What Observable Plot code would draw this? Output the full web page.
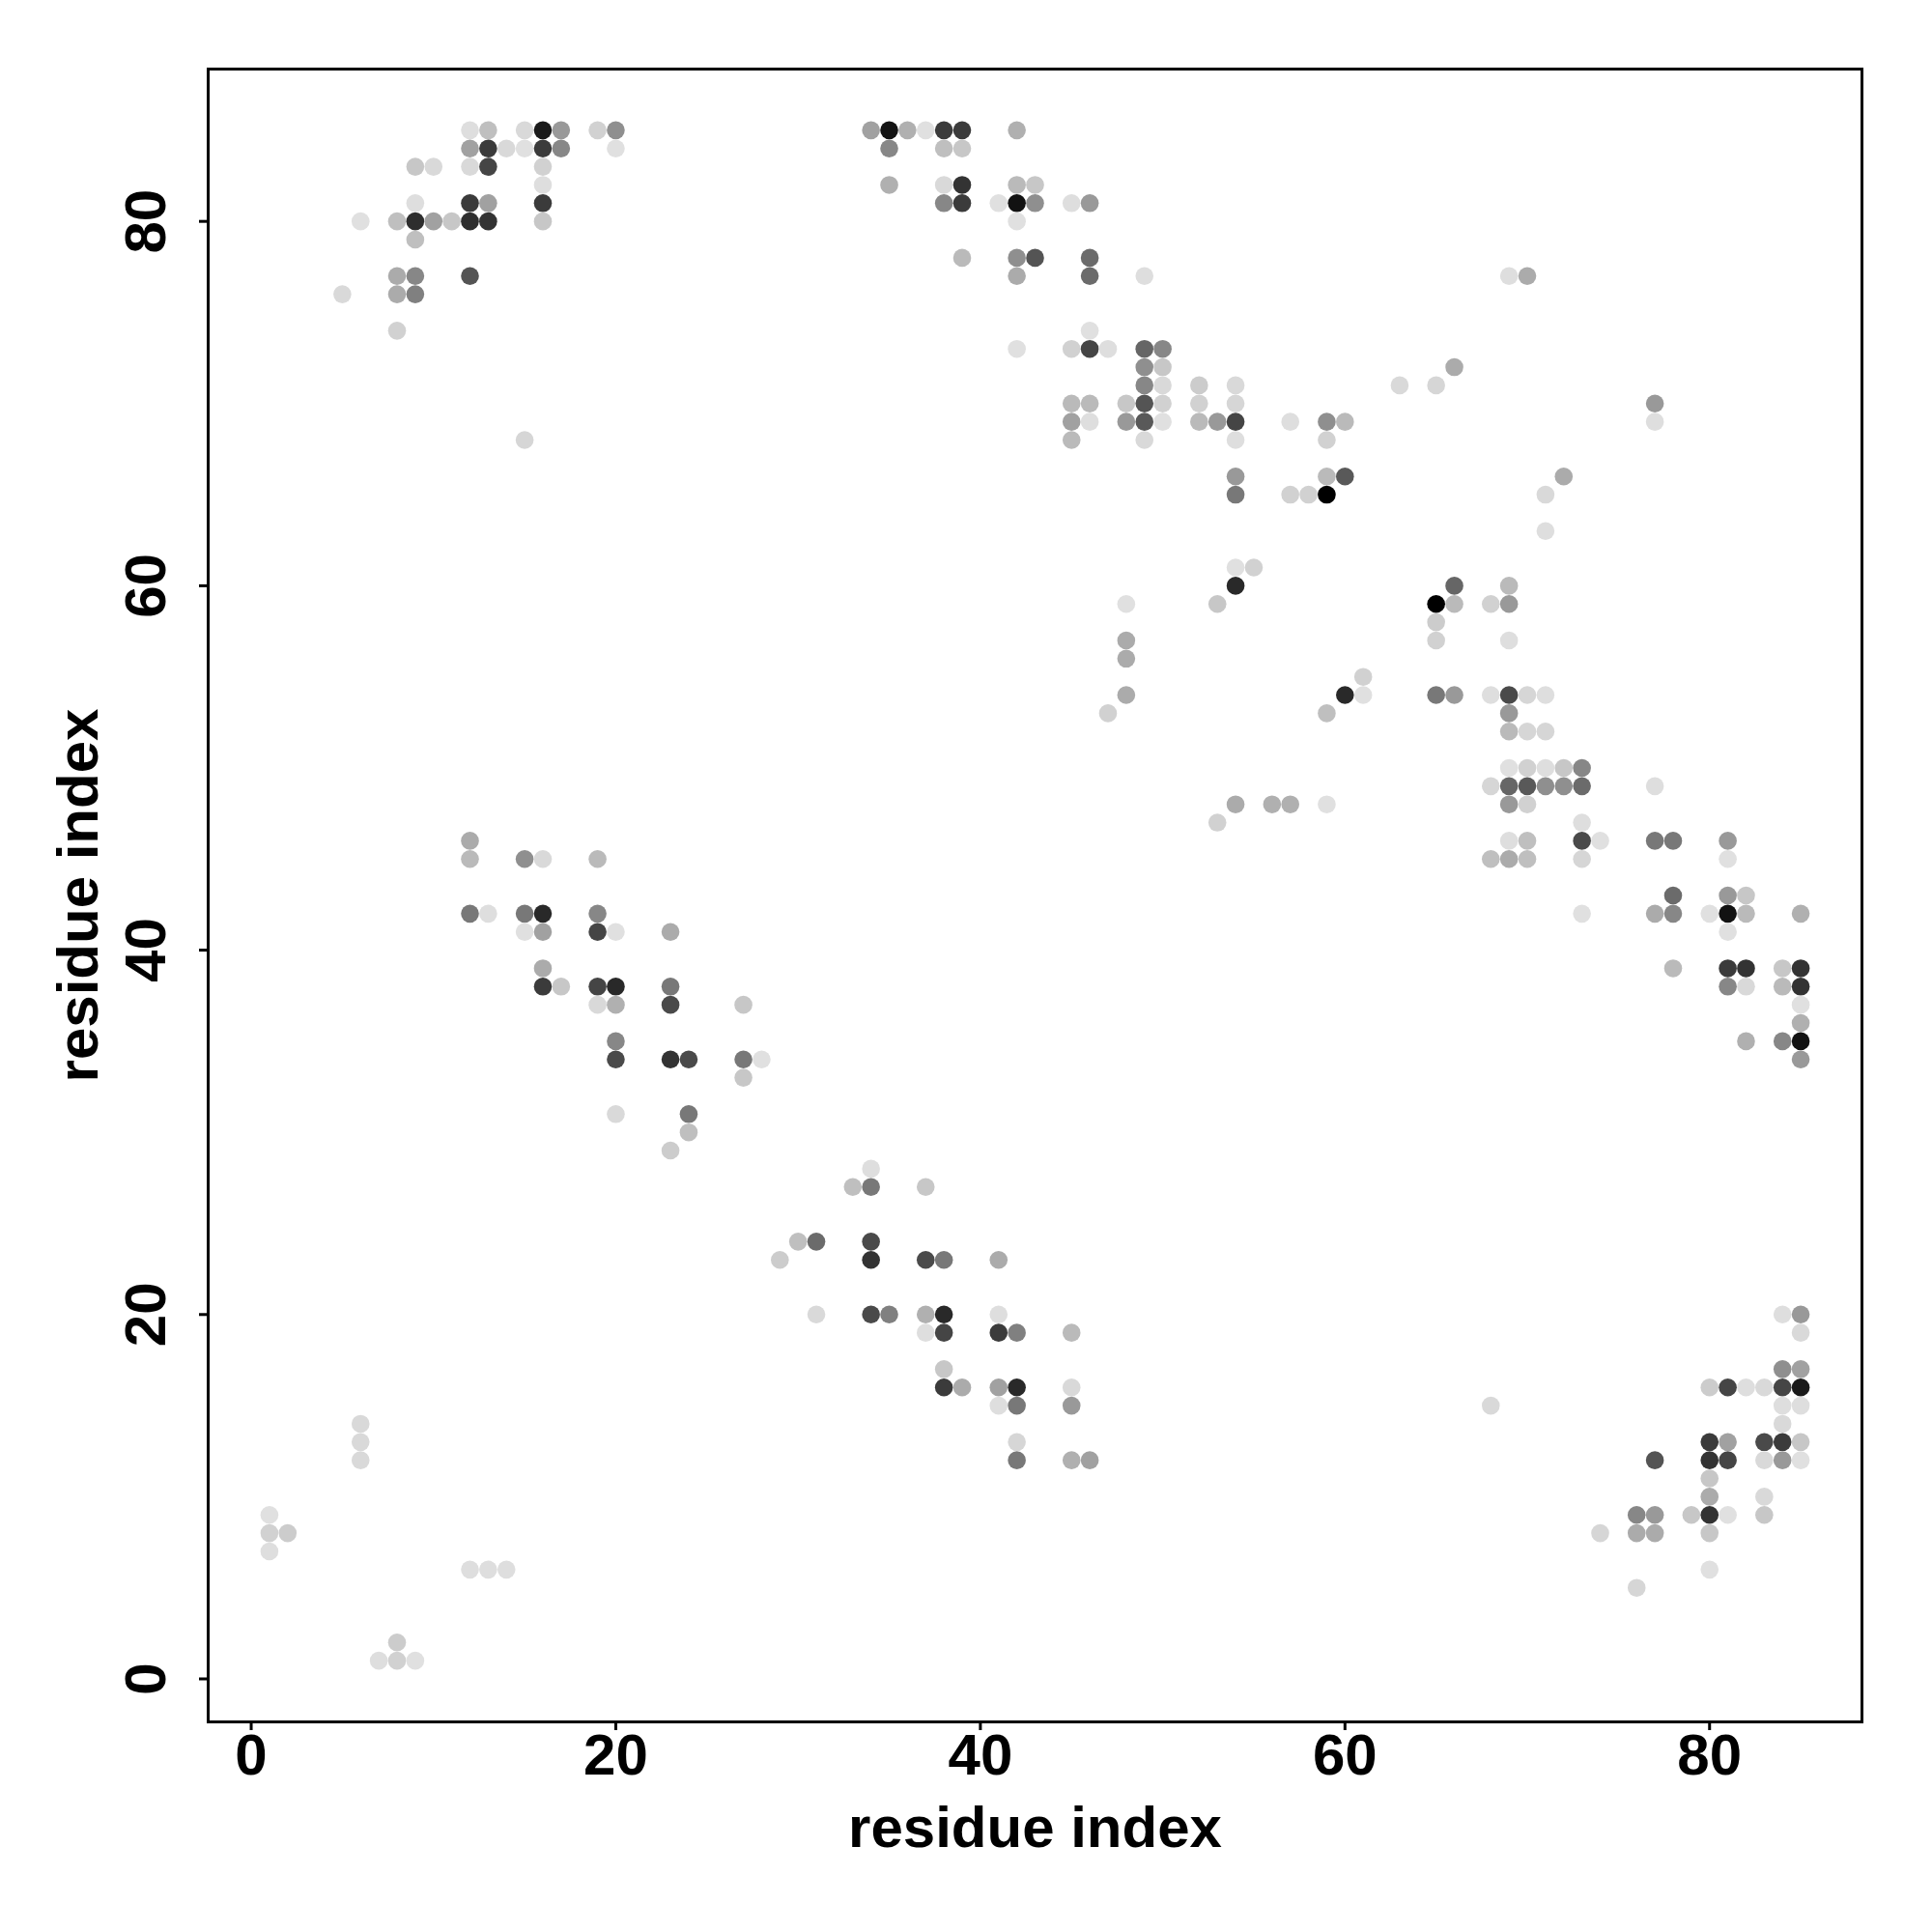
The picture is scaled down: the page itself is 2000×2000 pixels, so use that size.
<!DOCTYPE html>
<html>
<head>
<meta charset="utf-8">
<script src="https://cdn.jsdelivr.net/npm/d3@7"></script>
<script src="https://cdn.jsdelivr.net/npm/@observablehq/plot@0.6"></script>
<style>
  html, body { margin: 0; padding: 0; background: #ffffff; }
</style>
</head>
<body>
<div id="chart"></div>
<script>
// Contact map: for each residue index j (row), the partner residues i and contact strength p
const rowJ = [85, 84, 83, 82, 81, 80, 79, 78, 77, 76, 74, 73, 72, 71, 70, 69, 68, 66, 65, 63, 61, 60, 59, 58, 57, 56, 55, 54, 53, 52, 50, 49, 48, 47, 46, 45, 43, 42, 41, 39, 38, 37, 36, 35, 34, 33, 31, 30, 29, 28, 27, 24, 23, 20, 19, 17, 16, 15, 14, 13, 12, 11, 10, 9, 8, 7, 6, 5, 2, 1];
const rowI = [
  [12,13,15,16,17,19,20,34,35,36,37,38,39,42],
  [12,13,14,15,16,17,20,35,38,39],
  [9,10,12,13,16],
  [16,35,38,39,42,43],
  [9,12,13,16,38,39,41,42,43,45,46],
  [6,8,9,10,11,12,13,16,42],
  [9],
  [39,42,43,46],
  [8,9,12,42,46,49,69,70],
  [5,8,9],
  [8,46],
  [42,45,46,47,49,50],
  [49,50,66],
  [49,50,52,54,63,65],
  [45,46,48,49,50,52,54,77],
  [45,46,48,49,50,52,53,54,57,59,60,77],
  [15,45,49,54,59],
  [54,59,60,72],
  [54,57,58,59,71],
  [71],
  [54,55],
  [54,66,69],
  [48,53,65,66,68,69],
  [65],
  [48,65,69],
  [48],
  [61],
  [48,60,61,65,66,68,69,70,71],
  [47,59,69],
  [69,70,71],
  [69,70,71,72,73],
  [68,69,70,71,72,73,77],
  [54,56,57,59,69,70],
  [53,73],
  [12,69,70,73,74,77,78,81],
  [12,15,16,19,68,69,70,73,81],
  [78,81,82],
  [12,13,15,16,19,73,77,78,80,81,82,85],
  [15,16,19,20,23,81],
  [16,78,81,82,84,85],
  [16,17,19,20,23,81,82,84,85],
  [19,20,23,27,85],
  [85],
  [20,82,84,85],
  [20,23,24,27,28,85],
  [27],
  [20,24],
  [24],
  [23],
  [34],
  [33,34,37],
  [30,31,34],
  [29,34,37,38,41],
  [31,34,35,37,38,41,84,85],
  [37,38,41,42,45,85],
  [38,84,85],
  [38,39,41,42,45,80,81,82,83,84,85],
  [41,42,45,68,84,85],
  [6,84],
  [6,42,80,81,83,84,85],
  [6,42,45,46,77,80,81,83,84,85],
  [80],
  [80,83],
  [1,76,77,79,80,81,83],
  [1,2,74,76,77,80],
  [1],
  [12,13,14,80],
  [76],
  [8],
  [7,8,9]
];
const rowP = [
  [.13,.25,.15,.9,.4,.18,.44,.37,.92,.31,.12,.77,.77,.31],
  [.37,.77,.15,.12,.77,.47,.12,.47,.25,.22],
  [.22,.15,.15,.73,.18],
  [.13,.31,.15,.8,.27,.22],
  [.13,.77,.37,.77,.47,.77,.12,.93,.44,.13,.4],
  [.12,.25,.82,.37,.22,.82,.8,.22,.12],
  [.25],
  [.27,.44,.67,.58],
  [.33,.47,.67,.33,.58,.13,.13,.33],
  [.15,.33,.5],
  [.18,.12],
  [.12,.18,.73,.13,.6,.47],
  [.44,.22,.33],
  [.47,.15,.2,.15,.15,.16],
  [.27,.27,.22,.67,.18,.18,.16,.4],
  [.37,.13,.4,.65,.12,.27,.4,.73,.13,.44,.27,.13],
  [.16,.27,.15,.13,.18],
  [.4,.27,.65,.33],
  [.53,.18,.18,1,.15],
  [.13],
  [.12,.18],
  [.84,.6,.27],
  [.12,.22,1,.27,.18,.4],
  [.2],
  [.33,.18,.13],
  [.33],
  [.18],
  [.33,.84,.12,.53,.4,.13,.71,.16,.13],
  [.18,.25,.4],
  [.27,.16,.16],
  [.12,.18,.13,.22,.47],
  [.16,.6,.65,.44,.44,.58,.13],
  [.33,.31,.31,.12,.4,.18],
  [.18,.13],
  [.33,.13,.25,.71,.12,.53,.53,.4],
  [.27,.44,.15,.27,.25,.33,.25,.16,.12],
  [.58,.4,.22],
  [.53,.13,.53,.84,.47,.12,.33,.47,.12,.93,.27,.31],
  [.12,.37,.73,.12,.33,.12],
  [.33,.27,.77,.8,.22,.8],
  [.77,.22,.73,.84,.53,.47,.15,.27,.8],
  [.15,.31,.71,.22,.12],
  [.31],
  [.47,.31,.47,.93],
  [.71,.8,.71,.53,.12,.4],
  [.22],
  [.15,.53],
  [.25],
  [.2],
  [.13],
  [.25,.53,.22],
  [.25,.58,.71],
  [.2,.8,.71,.53,.33],
  [.15,.71,.5,.31,.84,.13,.13,.4],
  [.13,.73,.77,.5,.27,.15],
  [.22,.44,.37],
  [.77,.33,.37,.84,.15,.2,.73,.13,.15,.73,.9],
  [.13,.53,.4,.15,.13,.13],
  [.15,.15],
  [.15,.16,.77,.37,.71,.77,.22],
  [.15,.53,.31,.37,.67,.8,.73,.15,.4,.12],
  [.22],
  [.33,.15],
  [.12,.47,.4,.22,.8,.12,.22],
  [.18,.2,.16,.33,.33,.22],
  [.13],
  [.13,.13,.13,.12],
  [.16],
  [.2],
  [.13,.18,.12]
];
const tickValues = [0, 20, 40, 60, 80];
const xTitle = "residue index";
const yTitle = "residue index";

const contacts = [];
rowJ.forEach((j, r) => {
  rowI[r].forEach((i, k) => contacts.push({i, j, p: rowP[r][k]}));
});

const chart = Plot.plot({
  width: 2000,
  height: 2000,
  marginLeft: 215,
  marginRight: 73,
  marginTop: 71,
  marginBottom: 218,
  style: {
    fontFamily: "'Liberation Sans', Arial, Helvetica, sans-serif",
    fontSize: "60px",
    fontWeight: "bold",
    background: "#ffffff",
    color: "#000000"
  },
  x: {domain: [-2.36, 88.36]},
  y: {domain: [-2.36, 88.36]},
  color: {type: "linear", domain: [0, 1], range: ["#ffffff", "#000000"], interpolate: "rgb"},
  marks: [
    Plot.dot(contacts, {x: "i", y: "j", r: 9.3, fill: "p", stroke: null}),
    Plot.frame({stroke: "#000000", strokeWidth: 3}),
    Plot.axisX({ticks: tickValues, tickSize: 9, tickPadding: 3, strokeWidth: 3, label: null}),
    Plot.axisY({ticks: tickValues, tickSize: 9, tickPadding: 36, tickRotate: -90, strokeWidth: 3, label: null}),
    Plot.text([xTitle], {text: d => d, frameAnchor: "bottom", dy: 129, textAnchor: "middle", lineAnchor: "bottom", fontSize: 60, fontWeight: "bold"}),
    Plot.text([yTitle], {text: d => d, frameAnchor: "left", dx: -115, rotate: -90, textAnchor: "middle", lineAnchor: "bottom", fontSize: 60, fontWeight: "bold"})
  ]
});
document.getElementById("chart").appendChild(chart);
</script>
</body>
</html>
